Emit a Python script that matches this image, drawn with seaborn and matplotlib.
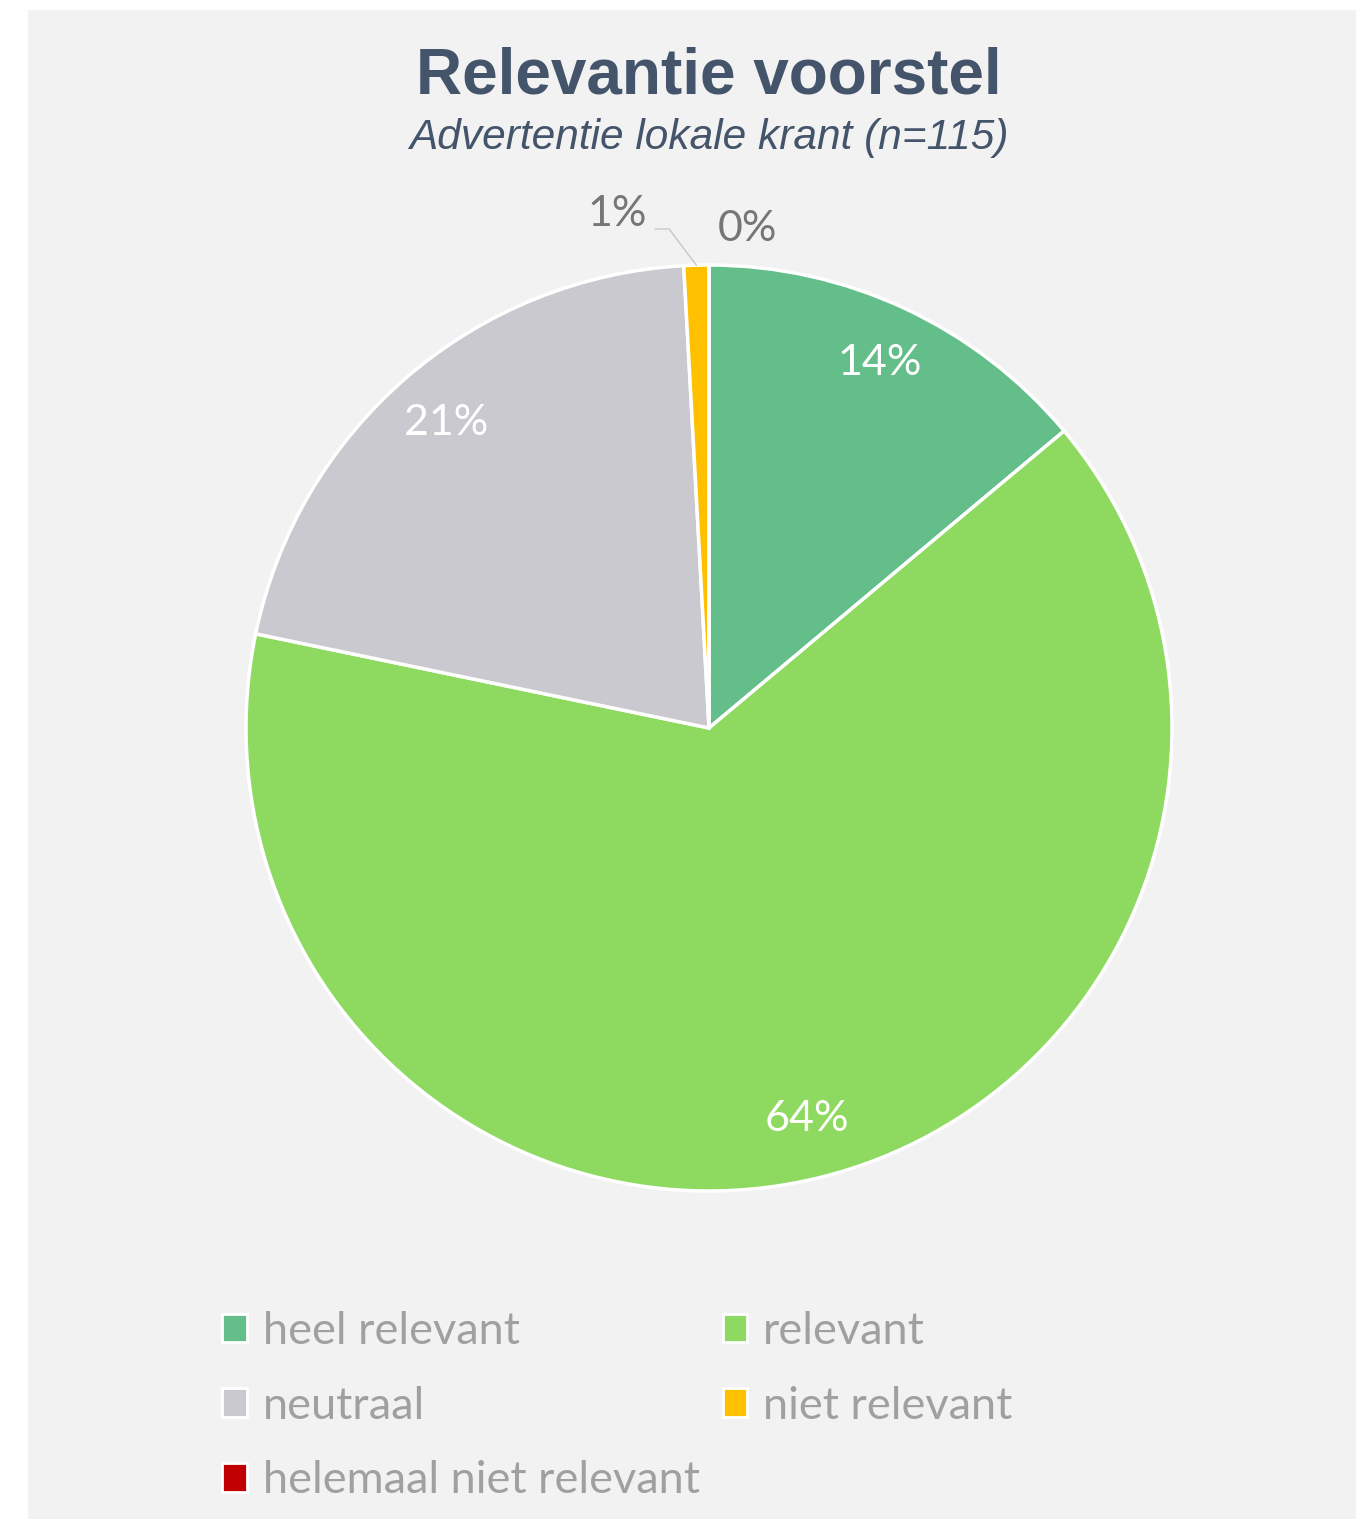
import numpy as np
import matplotlib
matplotlib.use("Agg")
import matplotlib.pyplot as plt
import seaborn as sns
from matplotlib.patches import Rectangle, Patch

categories = ["heel relevant", "relevant", "neutraal", "niet relevant", "helemaal niet relevant"]
counts = [16, 74, 24, 1, 0]
colors = ["#63BE8A", "#8ED960", "#C9C9CF", "#FFC000", "#C00000"]
title = "Relevantie voorstel"
subtitle = "Advertentie lokale krant (n=115)"

sns.set_theme(style="white")
plt.rcParams['font.family'] = ['Lato', 'DejaVu Sans']

W, H = 1358, 1519
fig = plt.figure(figsize=(W / 100, H / 100), dpi=100, facecolor="white")
fig.patches.append(Rectangle((28 / W, 0), (1356 - 28) / W, (H - 10) / H,
                             transform=fig.transFigure, facecolor="#F2F2F2",
                             edgecolor="none", zorder=-5))

ax = fig.add_axes([246 / W, 328 / H, 926 / W, 926 / H])
ax.set_facecolor("none")
total = sum(counts)
pcts = [c / total * 100 for c in counts]
wedges, _ = ax.pie(counts, colors=colors, startangle=90, counterclock=False,
                   wedgeprops=dict(edgecolor="white", linewidth=2.5))
ax.set_xlim(-1, 1)
ax.set_ylim(-1, 1)
ax.set_aspect("equal")
ax.axis("off")

lab_font = dict(family=["Lato", "DejaVu Sans"], fontsize=31)
for w, p in zip(wedges, pcts):
    mid = np.deg2rad((w.theta1 + w.theta2) / 2)
    txt = f"{p:.0f}%"
    if p >= 5:
        ax.text(0.87 * np.cos(mid), 0.87 * np.sin(mid), txt, color="white",
                ha="center", va="center", **lab_font)
    elif p > 0:
        ax.annotate(txt, xy=(np.cos(mid), np.sin(mid)), xytext=(-36, 37),
                    textcoords="offset points", ha="right", va="center",
                    color="#767676", annotation_clip=False,
                    arrowprops=dict(arrowstyle="-", color="#C8C8C8", lw=1,
                                    shrinkA=4, shrinkB=0, relpos=(1.0, 0.1),
                                    connectionstyle="angle,angleA=0,angleB=127,rad=0"),
                    **lab_font)
    else:
        ax.annotate(txt, xy=(np.cos(mid), np.sin(mid)), xytext=(6, 26),
                    textcoords="offset points", ha="left", va="center",
                    color="#767676", annotation_clip=False, **lab_font)

fig.text(709 / W, 1 - 76 / H, title, ha="center", va="center",
         family=["Liberation Sans", "DejaVu Sans"], fontweight="bold",
         fontsize=46, color="#44546A")
fig.text(709 / W, 1 - 138 / H, subtitle, ha="center", va="center",
         family=["Liberation Sans", "DejaVu Sans"], style="italic",
         fontsize=30.5, color="#44546A")

handles = [Patch(facecolor=c, edgecolor="white", linewidth=2) for c in colors]
order = [0, 2, 4, 1, 3]
leg = fig.legend([handles[i] for i in order], [categories[i] for i in order],
                 ncol=2, loc="upper left", bbox_to_anchor=(222 / W, 1 - 1311 / H),
                 frameon=False, fontsize=32.5, labelcolor="#A0A0A0",
                 borderaxespad=0, borderpad=0,
                 handlelength=0.55, handleheight=0.6, handletextpad=0.35,
                 labelspacing=0.745, columnspacing=0.51)

fig.savefig("out.png", dpi=100, facecolor="white")
